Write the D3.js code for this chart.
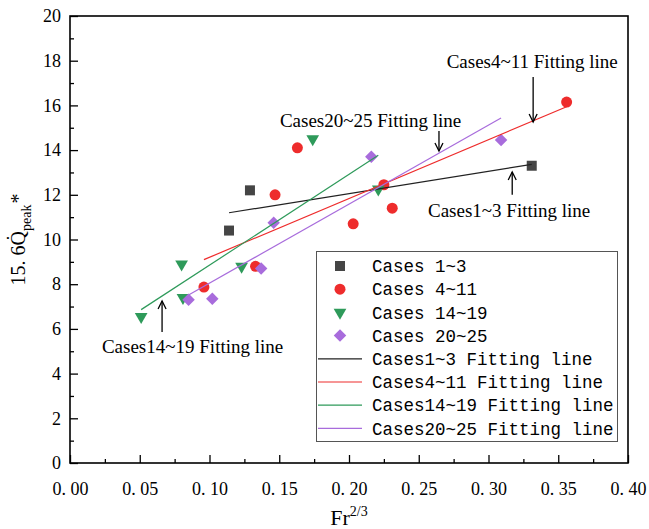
<!DOCTYPE html>
<html>
<head>
<meta charset="utf-8" />
<title>Fr vs Q peak</title>
<script src="https://cdn.jsdelivr.net/npm/d3@7"></script>
<style>
    body { margin: 0; background: #fff; }
    text { font-family: "Liberation Serif", "Times New Roman", serif; fill: #000; }
    .legend text { font-family: "Liberation Mono", "DejaVu Sans Mono", monospace; font-size: 17.5px; }
    .axis path { display: none; }
    .axis line { stroke: #000; stroke-width: 1.3; }
    .axis text { font-size: 18px; }
</style>
</head>
<body>
<svg id="chart" width="649" height="529"></svg>
<script>
// values
var seriesNames = ["Cases 1~3", "Cases 4~11", "Cases 14~19", "Cases 20~25"];
var fitNames = ["Cases1~3 Fitting line", "Cases4~11 Fitting line", "Cases14~19 Fitting line", "Cases20~25 Fitting line"];

var cases1x = [0.114, 0.129, 0.331];
var cases1y = [10.4, 12.2, 13.3];
var cases4x = [0.096, 0.133, 0.147, 0.163, 0.203, 0.225, 0.231, 0.356];
var cases4y = [7.87, 8.8, 12.0, 14.1, 10.7, 12.45, 11.4, 16.15];
var cases14x = [0.051, 0.080, 0.081, 0.123, 0.174, 0.221];
var cases14y = [6.55, 8.9, 7.4, 8.8, 14.5, 12.25];
var cases20x = [0.085, 0.102, 0.137, 0.146, 0.216, 0.309];
var cases20y = [7.3, 7.35, 8.7, 10.75, 13.7, 14.45];

var xTicks = [0, 0.05, 0.10, 0.15, 0.20, 0.25, 0.30, 0.35, 0.40];
var yTicks = [0, 2, 4, 6, 8, 10, 12, 14, 16, 18, 20];

var colors = ["#454545", "#ee2c2c", "#2e9a5a", "#a86cdc"];

var svg = d3.select("#chart"),
    margin = {top: 16, right: 21, bottom: 66, left: 70},
    width = +svg.attr("width") - margin.left - margin.right,
    height = +svg.attr("height") - margin.top - margin.bottom;

var x = d3.scaleLinear().domain([0, 0.4]).range([margin.left, margin.left + width]);
var y = d3.scaleLinear().domain([0, 20]).range([margin.top + height, margin.top]);

var series = [
    {name: seriesNames[0], fit: fitNames[0], xs: cases1x, ys: cases1y, shape: "square"},
    {name: seriesNames[1], fit: fitNames[1], xs: cases4x, ys: cases4y, shape: "circle"},
    {name: seriesNames[2], fit: fitNames[2], xs: cases14x, ys: cases14y, shape: "triangle"},
    {name: seriesNames[3], fit: fitNames[3], xs: cases20x, ys: cases20y, shape: "diamond"}
];

// least squares line over the range of each group
series.forEach(function(s, i) {
    s.color = colors[i];
    var mx = d3.mean(s.xs), my = d3.mean(s.ys);
    var sxx = d3.sum(s.xs, function(v) { return (v - mx) * (v - mx); });
    var sxy = d3.sum(s.xs, function(v, k) { return (v - mx) * (s.ys[k] - my); });
    var b = sxy / sxx, a = my - b * mx;
    var x0 = d3.min(s.xs), x1 = d3.max(s.xs);
    s.line = [[x0, a + b * x0], [x1, a + b * x1]];
});

function symbolPath(shape) {
    if (shape == "square") return d3.symbol(d3.symbolSquare, 100)();
    if (shape == "circle") return d3.symbol(d3.symbolCircle, 95)();
    if (shape == "triangle") return d3.symbol(d3.symbolTriangle, 70)();
    return d3.symbol(d3.symbolSquare, 78)();
}
function symbolRotate(shape) {
    if (shape == "triangle") return " rotate(180)";
    if (shape == "diamond") return " rotate(45)";
    return "";
}

// axes, ticks point inward
var fmtX = function(d) { return d3.format(".2f")(d).replace(".", ". "); };

svg.append("g")
    .attr("class", "axis")
    .attr("transform", "translate(0," + y(0) + ")")
    .call(d3.axisBottom(x).tickValues(d3.range(0.025, 0.4, 0.05)).tickSize(-4).tickFormat(""));
svg.append("g")
    .attr("class", "axis")
    .attr("transform", "translate(0," + y(0) + ")")
    .call(d3.axisBottom(x).tickValues(xTicks).tickSize(-8).tickPadding(19).tickFormat(fmtX));

svg.append("g")
    .attr("class", "axis")
    .attr("transform", "translate(" + x(0) + ",0)")
    .call(d3.axisLeft(y).tickValues(d3.range(1, 20, 2)).tickSize(-4).tickFormat(""));
svg.append("g")
    .attr("class", "axis")
    .attr("transform", "translate(" + x(0) + ",0)")
    .call(d3.axisLeft(y).tickValues(yTicks).tickSize(-8).tickPadding(9).tickFormat(d3.format("d")));

// frame
svg.append("rect")
    .attr("x", x(0)).attr("y", y(20))
    .attr("width", x(0.4) - x(0)).attr("height", y(0) - y(20))
    .attr("fill", "none").attr("stroke", "#000").attr("stroke-width", 1.6);

// markers
series.forEach(function(s) {
    svg.append("g").selectAll("path")
        .data(s.xs.map(function(v, k) { return [v, s.ys[k]]; }))
        .enter().append("path")
        .attr("d", symbolPath(s.shape))
        .attr("transform", function(d) { return "translate(" + x(d[0]) + "," + y(d[1]) + ")" + symbolRotate(s.shape); })
        .attr("fill", s.color);
});

// fitting lines
var lineGen = d3.line().x(function(d) { return x(d[0]); }).y(function(d) { return y(d[1]); });
series.forEach(function(s) {
    svg.append("path")
        .attr("d", lineGen(s.line))
        .attr("fill", "none")
        .attr("stroke", s.color == "#454545" ? "#222" : s.color)
        .attr("stroke-width", 1.2);
});

// annotations with arrows (data units)
var notes = [
    {text: "Cases4~11 Fitting line", tx: 0.270, ty: 17.67, ax: 0.332, from: 17.27, to: 15.26},
    {text: "Cases20~25 Fitting line", tx: 0.1505, ty: 15.03, ax: 0.2645, from: 14.85, to: 13.96},
    {text: "Cases1~3 Fitting line", tx: 0.2566, ty: 11.0, ax: 0.317, from: 12.0, to: 13.02},
    {text: "Cases14~19 Fitting line", tx: 0.0229, ty: 4.92, ax: 0.066, from: 5.86, to: 7.25}
];

svg.append("defs").append("marker")
    .attr("id", "arrow")
    .attr("viewBox", "-10 -6 12 12")
    .attr("refX", 0).attr("refY", 0)
    .attr("markerWidth", 12).attr("markerHeight", 12)
    .attr("markerUnits", "userSpaceOnUse")
    .attr("orient", "auto")
    .append("path")
    .attr("d", "M-8,-4L0,0L-8,4")
    .attr("fill", "none").attr("stroke", "#000").attr("stroke-width", 1.3);

notes.forEach(function(n) {
    svg.append("text")
        .attr("x", x(n.tx)).attr("y", y(n.ty))
        .style("font-size", "19px")
        .text(n.text);
    svg.append("line")
        .attr("x1", x(n.ax)).attr("x2", x(n.ax))
        .attr("y1", y(n.from)).attr("y2", y(n.to))
        .attr("stroke", "#000").attr("stroke-width", 1.3)
        .attr("marker-end", "url(#arrow)");
});

// legend
var legend = svg.append("g").attr("class", "legend");
legend.append("rect")
    .attr("x", 316.5).attr("y", 251.5).attr("width", 301).attr("height", 190)
    .attr("fill", "#fff").attr("stroke", "#555").attr("stroke-width", 1);

var rowY = function(i) { return 266 + i * 23.2; };
series.forEach(function(s, i) {
    legend.append("path")
        .attr("d", symbolPath(s.shape))
        .attr("transform", "translate(340," + rowY(i) + ")" + symbolRotate(s.shape))
        .attr("fill", s.color);
    legend.append("text")
        .attr("x", 372).attr("y", rowY(i)).attr("dy", "0.35em")
        .text(s.name);
});
series.forEach(function(s, i) {
    var ry = rowY(i + 4);
    legend.append("line")
        .attr("x1", 318).attr("x2", 362).attr("y1", ry).attr("y2", ry)
        .attr("stroke", s.color == "#454545" ? "#222" : s.color).attr("stroke-width", 1.2);
    legend.append("text")
        .attr("x", 372).attr("y", ry).attr("dy", "0.35em")
        .text(s.fit);
});

// axis titles
var xt = svg.append("text")
    .attr("x", (x(0) + x(0.4)) / 2).attr("y", 525)
    .attr("text-anchor", "middle")
    .style("font-size", "22px");
xt.append("tspan").text("Fr");
xt.append("tspan").attr("dy", -9).style("font-size", "14px").text("2/3");

var yt = svg.append("text")
    .attr("transform", "translate(25," + ((y(0) + y(20)) / 2) + ") rotate(-90)")
    .attr("text-anchor", "middle")
    .style("font-size", "20px");
yt.append("tspan").text("15. 6Q\u0307");
yt.append("tspan").attr("dy", 6).style("font-size", "14px").text("peak");
yt.append("tspan").attr("dy", -6).attr("dx", 1).style("font-size", "20px").text("*");
</script>
</body>
</html>
